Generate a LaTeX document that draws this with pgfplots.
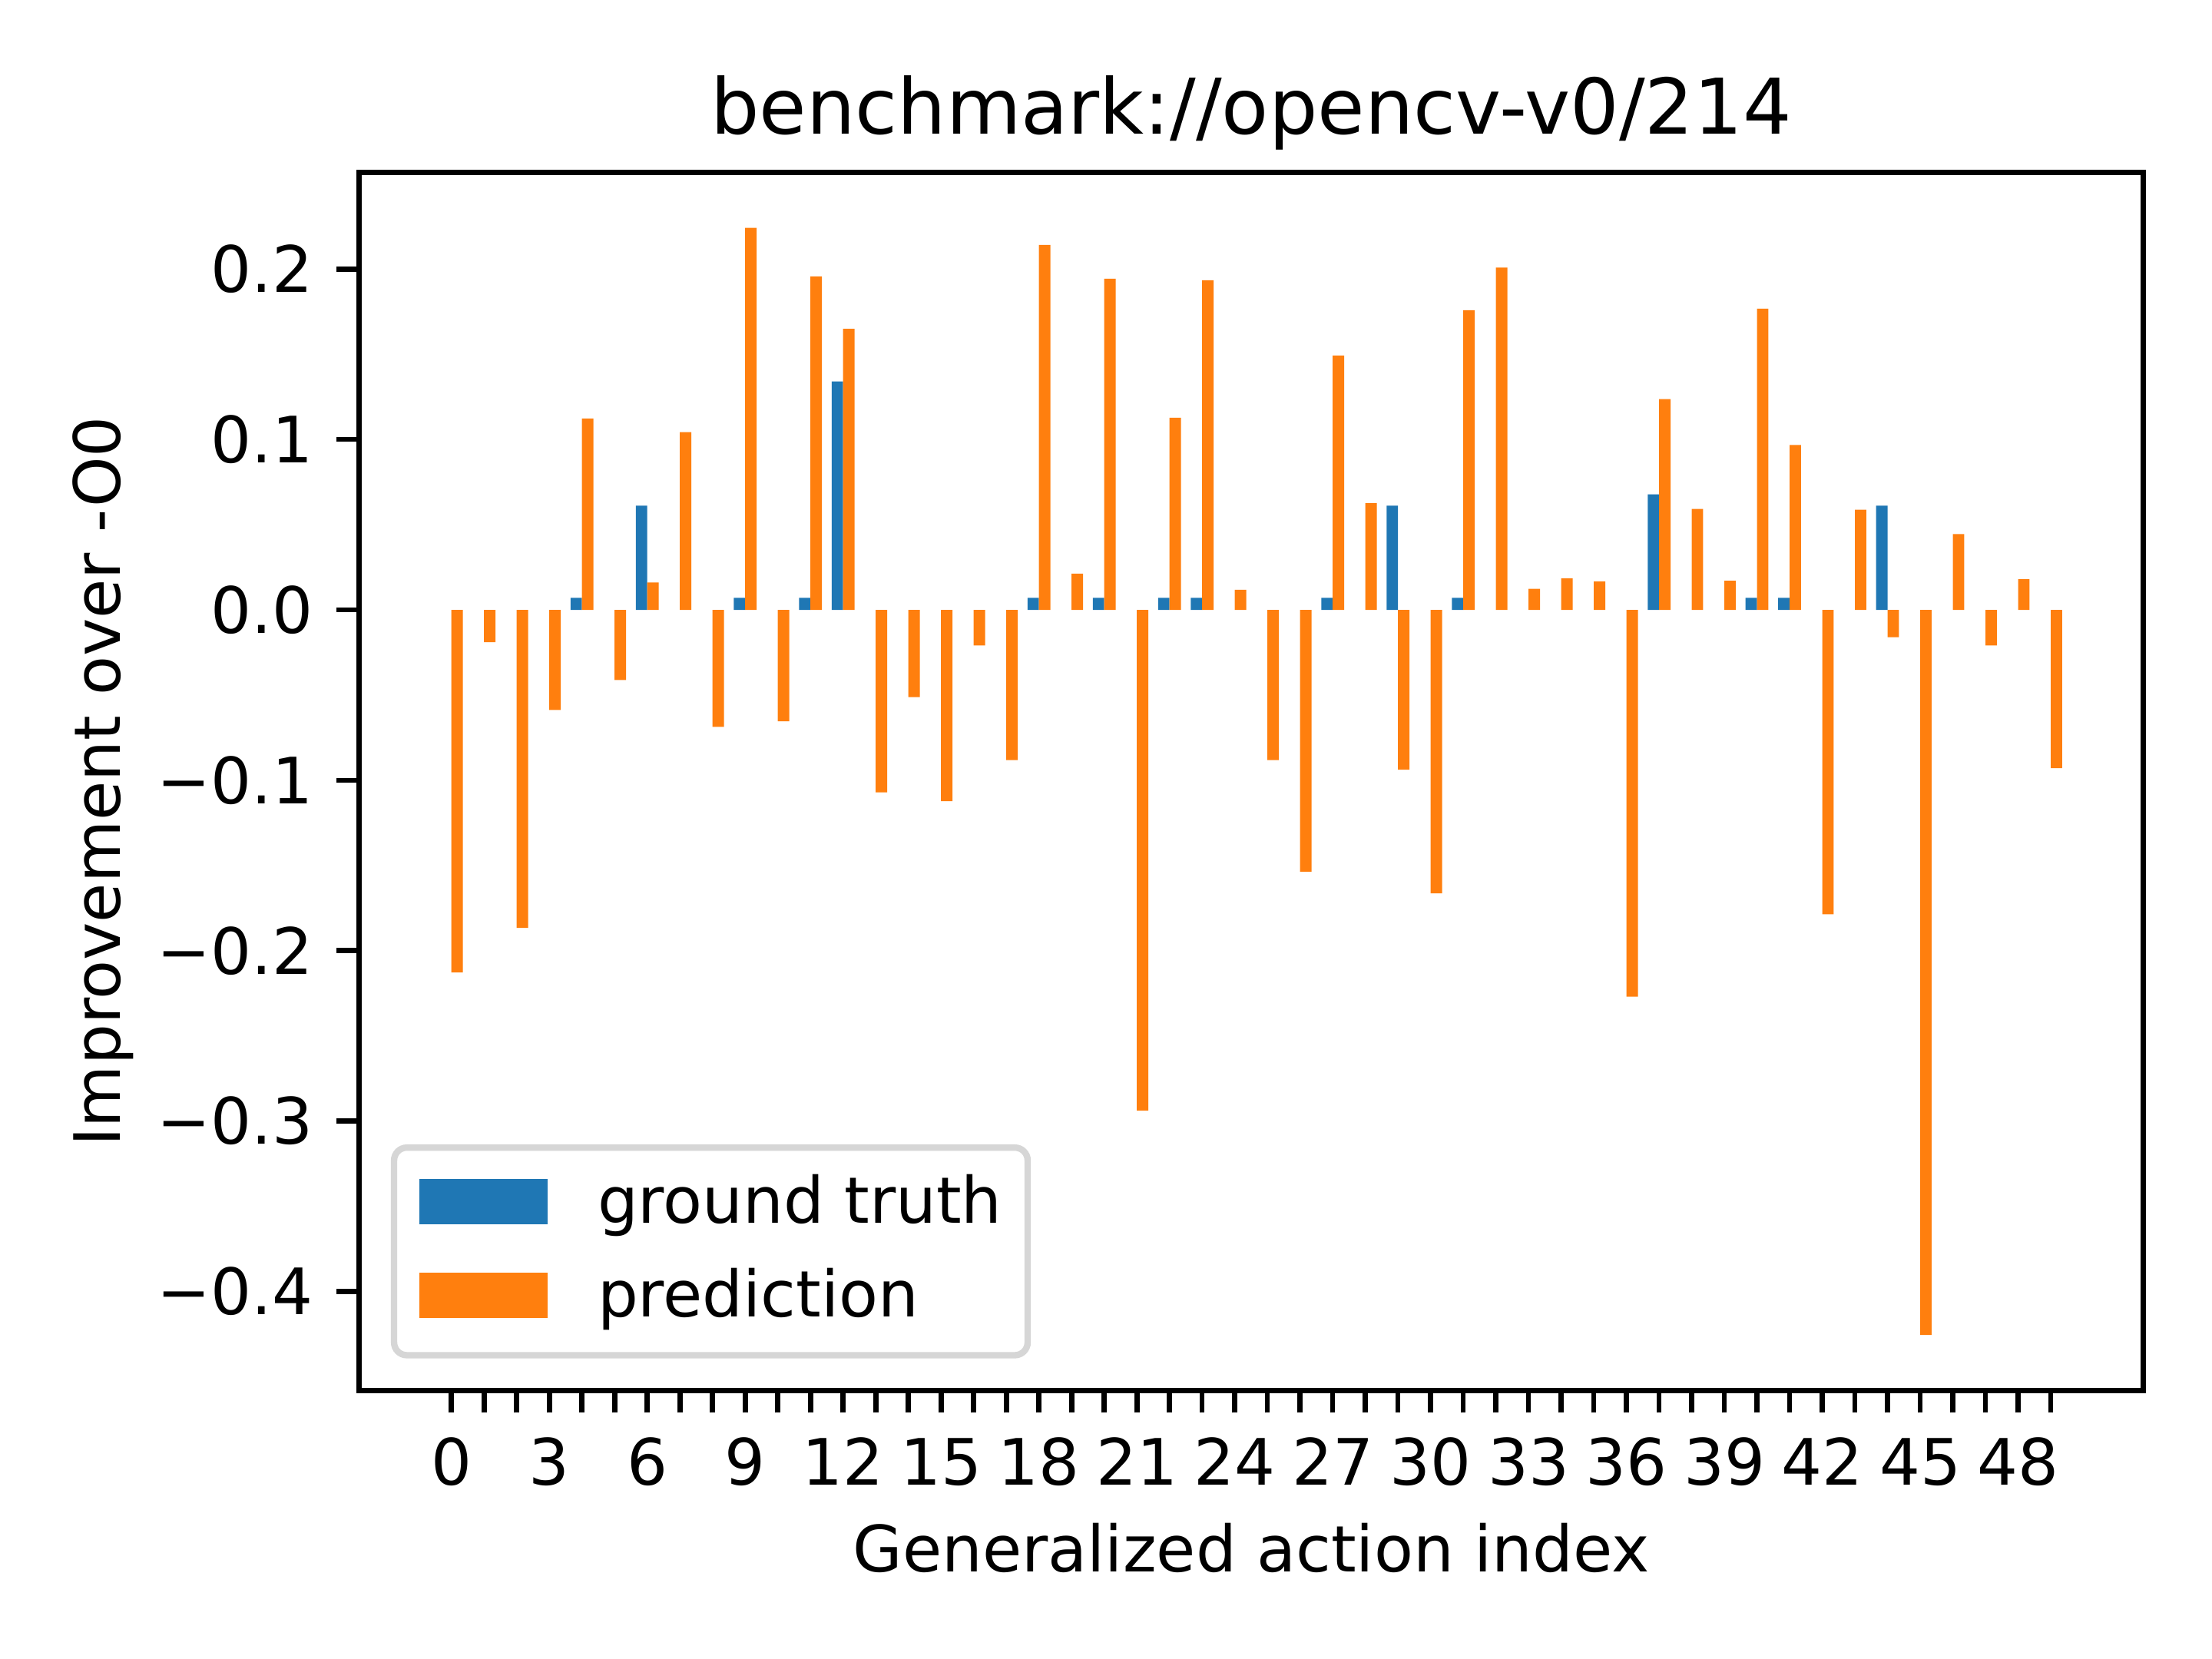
\documentclass[border=0pt]{standalone}
\usepackage{fontspec}
\setmainfont{DejaVu Sans}
\usepackage{pgfplots}
\pgfplotsset{compat=1.18}
\definecolor{mplblue}{HTML}{1F77B4}
\definecolor{mplorange}{HTML}{FF7F0E}
\begin{document}
\begin{tikzpicture}
\path[use as bounding box] (0pt,0pt) rectangle (345.6pt,259.2pt);
\begin{axis}[
  at={(56.07pt,41.96pt)}, anchor=south west,
  scale only axis, width=278.8pt, height=190.3pt,
  xmin=-2.835, xmax=51.835, ymin=-0.4581, ymax=0.2567,
  axis line style={line width=0.8pt},
  tick style={line width=0.8pt, black},
  tick align=outside, major tick length=3.5pt,
  xtick pos=bottom, ytick pos=left,
  xtick={0,...,49},
  xticklabels={0,,,3,,,6,,,9,,,12,,,15,,,18,,,21,,,24,,,27,,,30,,,33,,,36,,,39,,,42,,,45,,,48,},
  ytick={-0.4,-0.3,-0.2,-0.1,0,0.1,0.2},
  yticklabels={−0.4,−0.3,−0.2,−0.1,0.0,0.1,0.2},
  xticklabel style={font=\fontsize{10}{12}\selectfont, anchor=base, inner sep=0pt, yshift=-11.3pt},
  yticklabel style={font=\fontsize{10}{12}\selectfont, anchor=east, inner sep=0pt, xshift=-3.5pt},
  title={benchmark://opencv-v0/214},
  title style={at={(axis description cs:0.5,1)}, anchor=base, inner sep=0pt, font=\fontsize{12}{14.4}\selectfont},
  xlabel={Generalized action index},
  xlabel style={at={(axis description cs:0.5,-0.1492)}, anchor=base, inner sep=0pt, font=\fontsize{10}{12}\selectfont},
  ylabel={Improvement over -O0},
  ylabel style={at={(axis description cs:-0.1337,0.5)}, anchor=base, inner sep=0pt, font=\fontsize{10}{12}\selectfont},
  legend cell align=left,
  legend image code/.code={\path (0pt,0pt) -- (20pt,0pt); \fill[#1, draw=none, sharp corners, overlay] (0pt,-3.1pt) rectangle (20pt,3.94pt);},
  legend style={at={(axis description cs:0,0)}, anchor=south west, xshift=5pt, yshift=5pt,
    draw=white!84!black, line width=1pt, rounded corners=2pt, fill=white,
    inner xsep=4pt, inner ysep=3.8pt, row sep=4.44pt,
    font=\fontsize{10}{12}\selectfont,
    nodes={inner sep=0pt, text height=8pt, text depth=2.2pt},
    /tikz/every odd column/.append style={column sep=7.8pt}},
]
\addplot[ybar, bar width=0.35, bar shift=-0.175, fill=mplblue, draw=none] coordinates {
(4,0.0071) (6,0.0611) (9,0.0071) (11,0.0071) (12,0.1341) (18,0.0071) (20,0.0071)
(22,0.0071) (23,0.0071) (27,0.0071) (29,0.0611) (31,0.0071) (37,0.0678) (40,0.0071)
(41,0.0071) (44,0.0611)
};
\addlegendentry{ground truth}
\addplot[ybar, bar width=0.35, bar shift=0.175, fill=mplorange, draw=none] coordinates {
(0,-0.2128) (1,-0.0190) (2,-0.1867) (3,-0.0588) (4,0.1123) (5,-0.0412) (6,0.0161)
(7,0.1043) (8,-0.0687) (9,0.2242) (10,-0.0654) (11,0.1957) (12,0.1649) (13,-0.1071)
(14,-0.0512) (15,-0.1123) (16,-0.0209) (17,-0.0882) (18,0.2142) (19,0.0213) (20,0.1943)
(21,-0.2938) (22,0.1128) (23,0.1934) (24,0.0118) (25,-0.0882) (26,-0.1536) (27,0.1493)
(28,0.0626) (29,-0.0938) (30,-0.1664) (31,0.1758) (32,0.2009) (33,0.0123) (34,0.0185)
(35,0.0166) (36,-0.2270) (37,0.1237) (38,0.0592) (39,0.0171) (40,0.1768) (41,0.0967)
(42,-0.1787) (43,0.0588) (44,-0.0161) (45,-0.4256) (46,0.0445) (47,-0.0209) (48,0.0180)
(49,-0.0929)
};
\addlegendentry{prediction}
\end{axis}
\end{tikzpicture}
\end{document}
